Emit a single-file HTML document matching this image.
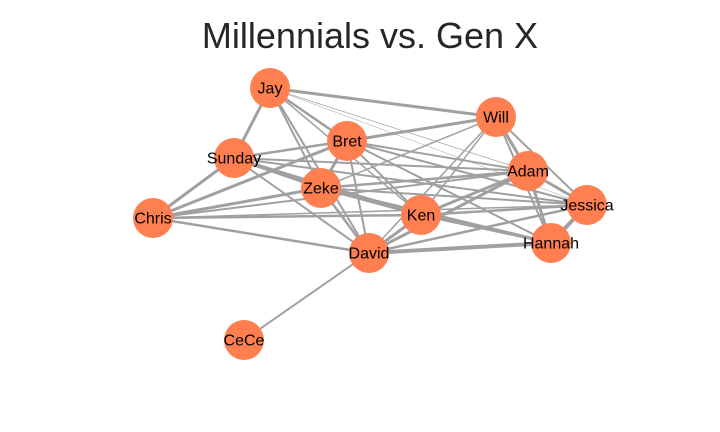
<!DOCTYPE html>
<html><head><meta charset="utf-8"><style>
html,body{margin:0;padding:0;background:#fff;}
svg{display:block;}
text{font-family:"Liberation Sans",Arial,sans-serif;}
</style></head><body>
<svg id="chart" width="720" height="432" viewBox="0 0 720 432">
<text x="370" y="48" text-anchor="middle" font-size="36" fill="#262626">Millennials vs. Gen X</text>
<g id="edges"></g>
<g id="nodes"></g>
</svg>
<script>
const nodeNames = ["Jay","Bret","Will","Sunday","Zeke","Adam","Jessica","Chris","Ken","Hannah","David","CeCe"];
const nodeX = [270,347,496,234,321,528,587,153,421,551,369,244];
const nodeY = [88,141,117,158,188,171,205,218,215,243,253,340];
const edgeSource = ["Jay","Jay","Jay","Jay","Jay","Jay","Jay","Jay","Sunday","Sunday","Sunday","Sunday","Sunday","Sunday","Sunday","Chris","Chris","Chris","Chris","Chris","Chris","Bret","Bret","Bret","Bret","Bret","Bret","Bret","Zeke","Zeke","Zeke","Zeke","Zeke","Zeke","Ken","Ken","Ken","Ken","Ken","David","David","David","David","David","Will","Will","Will","Adam","Adam","Hannah"];
const edgeTarget = ["Sunday","Will","Bret","Zeke","Ken","Adam","Jessica","David","Chris","Bret","Zeke","Ken","Jessica","Adam","David","Bret","Zeke","Ken","Jessica","David","Adam","Will","Zeke","David","Ken","Adam","Jessica","Hannah","Adam","Jessica","Ken","Hannah","David","Will","Will","Adam","Jessica","Hannah","David","Adam","Hannah","Jessica","Will","CeCe","Adam","Jessica","Hannah","Jessica","Hannah","Jessica"];
const edgeWeight = [3,3,2.5,2,1.5,0.7,0.5,2,3,2.5,3,3,2,2,2,3,3,2.5,1.5,2.5,2,3,3,2,2,2,2,2,2.5,2,3,3,2.5,1.5,1.5,3,2.5,2.5,3,3,4,2.5,1.5,2,3,2,2,3,3,4];

const NS="http://www.w3.org/2000/svg";
const eg=document.getElementById("edges"), ng=document.getElementById("nodes");
function pos(n){const i=nodeNames.indexOf(n);return [nodeX[i],nodeY[i]];}
for(let k=0;k<edgeSource.length;k++){
  const a=pos(edgeSource[k]), b=pos(edgeTarget[k]);
  const l=document.createElementNS(NS,"line");
  l.setAttribute("x1",a[0]);l.setAttribute("y1",a[1]);l.setAttribute("x2",b[0]);l.setAttribute("y2",b[1]);
  l.setAttribute("stroke","#a0a0a0");l.setAttribute("stroke-width",edgeWeight[k]);
  
  
  eg.appendChild(l);
}
for(let i=0;i<nodeNames.length;i++){
  const c=document.createElementNS(NS,"circle");
  c.setAttribute("cx",nodeX[i]);c.setAttribute("cy",nodeY[i]);c.setAttribute("r",20);c.setAttribute("fill","#ff7f50");
  
  
  ng.appendChild(c);
}
for(let i=0;i<nodeNames.length;i++){
  const t=document.createElementNS(NS,"text");
  t.setAttribute("x",nodeX[i]);t.setAttribute("y",nodeY[i]+5.5);t.setAttribute("text-anchor","middle");
  t.setAttribute("font-size","16");t.setAttribute("fill","#000");
  t.textContent=nodeNames[i];
  
  
  ng.appendChild(t);
}
</script>
</body></html>
